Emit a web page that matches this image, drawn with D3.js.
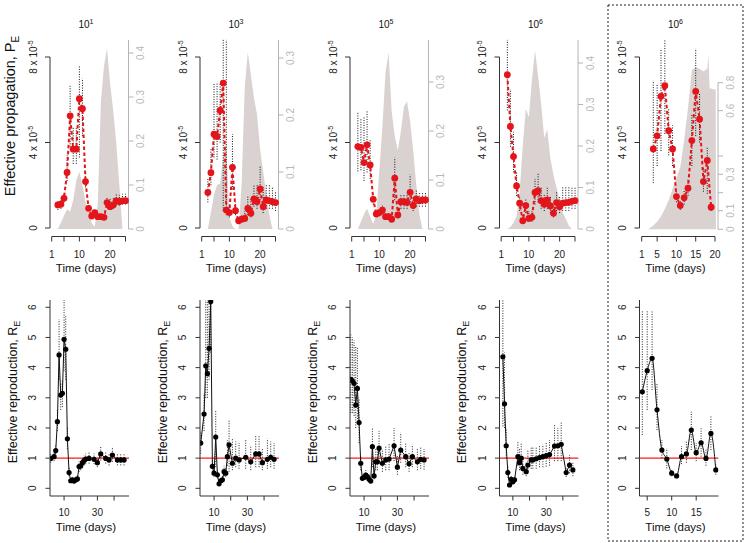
<!DOCTYPE html>
<html><head><meta charset="utf-8">
<script src="https://cdn.jsdelivr.net/npm/d3@7"></script>
<style>
body{margin:0;background:#fff}
svg{display:block}
text{font-family:"Liberation Sans",Arial,Helvetica,sans-serif}
</style>
</head><body>
<svg id="c" width="750" height="543"></svg>
<script>
// ---------- DATA ----------
const panelExponents = ["1", "3", "5", "6", "6"];

// Top row: effective propagation P_E (units of 1e-5), daily points
const pDays = [3,4,5,6,7,8,9,10,11,12,13,14,15,16,17,18,19,20,21,22,23,24,25];
const p1Vals = [1.08,1.11,1.39,2.60,5.25,3.69,3.69,6.05,5.58,2.17,0.92,0.56,0.72,0.53,0.53,0.50,1.19,1.00,1.08,1.27,1.23,1.27,1.28];
const p1Lo   = [0.85,0.90,1.20,2.20,3.80,3.00,3.00,3.30,4.30,1.90,0.80,0.45,0.60,0.45,0.45,0.42,1.00,0.85,0.90,1.05,1.05,1.10,1.10];
const p1Hi   = [1.30,1.35,1.60,3.40,6.65,4.75,4.75,7.60,7.00,2.50,1.10,0.70,0.85,0.65,0.65,0.60,1.45,1.40,1.40,1.60,1.55,1.60,1.60];
const p2Vals = [1.66,2.59,4.39,4.28,5.50,6.78,0.84,0.72,2.84,0.81,0.34,0.41,0.45,0.92,0.69,1.36,1.23,1.83,1.00,1.31,1.27,1.23,1.19];
const p2Lo   = [1.20,2.00,3.30,3.20,4.00,0.80,0.60,0.50,1.80,0.60,0.25,0.30,0.30,0.60,0.50,1.00,0.90,1.30,0.70,0.90,0.90,0.90,0.80];
const p2Hi   = [2.30,3.70,6.80,6.80,6.80,8.80,8.80,1.10,4.40,1.20,0.50,0.60,0.80,1.50,1.40,2.00,2.00,2.90,1.90,2.00,2.00,1.90,1.70];
const p3Vals = [3.81,3.77,3.06,3.89,2.95,1.34,0.66,0.72,0.84,0.53,0.53,0.41,2.33,0.61,1.23,1.23,1.19,1.67,1.05,1.36,1.27,1.31,1.31];
const p3Lo   = [2.65,2.70,2.20,2.60,2.30,1.10,0.50,0.55,0.65,0.40,0.40,0.30,1.30,0.45,0.90,0.90,0.90,1.20,0.80,1.00,1.00,1.00,1.00];
const p3Hi   = [5.40,5.10,5.20,5.50,4.10,1.60,0.85,0.90,1.10,0.70,0.70,0.55,3.30,0.90,1.60,1.60,1.60,2.50,1.50,1.80,1.70,1.70,1.70];
const p4Vals = [7.17,4.75,3.34,1.97,1.16,0.34,1.05,0.45,0.50,1.66,1.75,1.28,1.11,1.31,1.03,0.69,1.19,1.00,1.16,1.19,1.20,1.25,1.28];
const p4Lo   = [5.50,3.80,2.60,1.50,0.80,0.20,0.70,0.30,0.30,1.10,1.20,0.90,0.80,0.90,0.70,0.50,0.80,0.70,0.80,0.80,0.80,0.90,0.90];
const p4Hi   = [8.80,6.50,4.50,2.60,1.50,0.60,1.40,0.80,0.80,2.30,2.60,1.90,1.60,1.90,1.50,1.00,1.70,1.50,1.90,1.90,1.90,1.90,1.90];
const p5Days = [4,5,6,7,8,9,10,11,12,13,14,15,16,17,18,19];
const p5Vals = [3.70,4.31,6.16,6.66,4.55,3.70,1.47,1.05,1.41,1.86,4.09,6.39,5.09,2.17,3.16,0.97];
const p5Lo   = [2.10,2.90,3.60,4.40,3.40,2.90,1.20,0.85,1.10,1.50,2.90,4.30,4.00,1.70,1.60,0.80];
const p5Hi   = [6.90,6.70,8.40,8.80,5.60,4.80,1.80,1.30,1.80,2.30,5.30,8.40,6.30,2.80,3.80,1.20];

// Grey background (right axis) series
const gDays = [3,4,5,6,7,8,9,10,11,12,13,14,15,16,17,18,19,20,21,22,23,24];
const g1Vals = [0,0.015,0.03,0.045,0.04,0.066,0.11,0.13,0.10,0.06,0.043,0.013,0.005,0.06,0.29,0.37,0.41,0.33,0.27,0.195,0.10,0];
const g2Vals = [0,0.03,0.06,0.077,0.08,0.13,0.15,0.02,0.005,0,0,0.08,0.25,0.31,0.27,0.23,0.20,0.14,0.10,0.06,0.025,0];
const g3Vals = [0,0.015,0.03,0.042,0.025,0.01,0.03,0.12,0.21,0.32,0.36,0.24,0.19,0.16,0.20,0.25,0.26,0.22,0.16,0.09,0.03,0];
const g4Vals = [0,0.005,0.015,0.03,0.09,0.20,0.29,0.27,0.36,0.43,0.37,0.30,0.22,0.24,0.17,0.13,0.10,0.07,0.04,0.025,0.008,0];
const g5Days = [2.7,4,5,6,7,8,9,10,11,12,13,14,15,16,17,18,18.3,18.6,20.2,20.25];
const g5Vals = [0,0.02,0.04,0.07,0.11,0.16,0.22,0.28,0.34,0.47,0.62,0.89,0.91,0.90,0.88,0.90,1.00,0.76,0.75,0];

// Right-axis tick values
const rTicks1 = [0,0.1,0.2,0.3,0.4];
const rTicks2 = [0,0.1,0.2,0.3];
const rTicks3 = [0,0.1,0.2,0.3];
const rTicks4 = [0,0.1,0.2,0.3,0.4];
const rTicks5 = [0,0.1,0.2,0.3,0.4,0.6,0.8];
const rLabels5 = [0,0.1,0.3,0.6,0.8];

// Bottom row: effective reproduction R_E
const r1Days = [2,4,5,6,7,8,9,10,11,12,13,14,15,16,17,18,19,20,21,22,23,25,28,30,32,35,37,39,42,44,46];
const r1Vals = [0.99,1.05,1.25,2.21,4.42,3.09,3.15,4.94,4.61,1.64,0.52,0.25,0.28,0.24,0.28,0.31,0.72,0.74,0.85,0.92,0.97,0.99,0.96,0.85,1.14,0.99,0.94,1.10,0.94,0.94,0.94];
const r1Lo   = [0.85,0.90,1.05,1.90,3.60,2.60,2.70,3.90,3.60,1.30,0.40,0.18,0.20,0.17,0.20,0.22,0.55,0.60,0.70,0.76,0.80,0.82,0.80,0.70,0.92,0.82,0.76,0.88,0.76,0.76,0.76];
const r1Hi   = [1.15,1.20,1.45,2.60,5.60,3.50,3.60,6.30,5.70,2.00,0.70,0.35,0.38,0.33,0.38,0.42,0.90,0.92,1.02,1.10,1.15,1.20,1.15,1.02,1.40,1.20,1.15,1.38,1.15,1.15,1.15];
const r2Days = [2,4,5,6,7,8,9,10,11,12,13,14,15,16,17,18,19,21,23,25,29,32,35,37,39,42,44,46];
const r2Vals = [1.50,2.46,4.06,3.80,4.64,6.19,0.73,0.50,1.70,0.45,0.15,0.25,0.28,0.55,0.50,1.05,1.44,0.83,1.00,0.94,1.03,0.88,1.14,1.14,0.85,0.96,1.03,0.96];
const r2Lo   = [1.15,1.90,3.00,3.00,3.60,4.50,0.55,0.38,0.70,0.33,0.10,0.18,0.20,0.40,0.38,0.75,0.55,0.60,0.70,0.65,0.65,0.60,0.70,0.70,0.60,0.65,0.70,0.65];
const r2Hi   = [1.90,3.15,6.30,6.30,6.30,6.30,0.95,0.70,2.60,0.60,0.25,0.35,0.40,0.75,0.70,1.60,2.26,1.65,1.55,1.50,1.60,1.40,1.75,1.75,1.30,1.65,1.55,1.50];
const r3Days = [2,3,4,5,6,7,8,9,10,11,12,13,14,15,16,17,18,19,21,23,25,28,30,32,35,37,39,42,44,46];
const r3Vals = [3.61,3.56,3.48,2.76,3.31,2.18,0.83,0.33,0.36,0.44,0.39,0.30,0.24,1.38,0.41,0.88,0.88,1.33,0.83,0.94,0.97,1.41,0.70,1.27,1.05,0.81,1.05,0.88,0.96,0.94];
const r3Lo   = [2.50,2.50,2.40,2.00,2.30,1.50,0.60,0.25,0.28,0.33,0.30,0.22,0.18,0.70,0.30,0.60,0.60,0.80,0.55,0.60,0.60,0.90,0.45,0.85,0.70,0.55,0.70,0.60,0.65,0.62];
const r3Hi   = [5.10,5.00,4.90,4.70,4.70,3.00,1.10,0.45,0.50,0.60,0.55,0.42,0.35,2.00,0.60,1.30,1.30,1.90,1.30,1.40,1.50,2.00,1.10,1.85,1.50,1.20,1.45,1.30,1.35,1.30];
const r4Days = [4,5,6,7,8,9,10,11,13,14,15,16,18,19,21,22,24,26,28,30,32,35,37,39,42,44,46];
const r4Vals = [4.36,2.80,1.41,0.52,0.11,0.30,0.22,0.28,1.05,0.85,1.00,0.66,0.55,0.77,0.94,0.94,0.98,1.02,1.05,1.08,1.12,1.40,1.41,1.46,0.52,0.77,0.61];
const r4Lo   = [2.05,2.00,1.00,0.35,0.05,0.20,0.12,0.18,0.75,0.60,0.70,0.45,0.40,0.55,0.65,0.65,0.65,0.70,0.70,0.72,0.75,0.90,0.90,0.90,0.38,0.50,0.40];
const r4Hi   = [6.30,4.50,2.00,0.75,0.20,0.45,0.35,0.42,1.55,1.30,1.50,1.05,0.85,1.25,1.35,1.35,1.35,1.40,1.45,1.50,1.60,2.10,2.00,2.20,0.70,1.10,0.85];
const r5Days = [4,5,6,7,8,9,10,11,12,13,14,15,16,17,18,19];
const r5Vals = [3.20,3.90,4.31,2.60,1.27,0.97,0.50,0.41,1.05,1.14,1.93,1.18,1.51,0.99,1.82,0.61];
const r5Lo   = [1.77,2.60,3.26,1.93,1.00,0.66,0.40,0.35,0.80,0.85,1.27,0.90,1.05,0.75,1.27,0.45];
const r5Hi   = [5.90,5.90,5.86,3.48,1.60,1.33,0.60,0.50,1.40,1.55,2.54,1.50,1.99,1.30,2.43,0.80];

const topXTicksA = [1,5,10,15,20,25], topXLabelsA = [1,10,20];
const topXTicksB = [1,5,10,15,20], topXLabelsB = [1,5,10,15,20];
const botXTicksA = [10,20,30,40], botXLabelsA = [10,30];
const botXTicksB = [5,10,15], botXLabelsB = [5,10,15];
const botYTicks = [0,1,2,3,4,5,6];
const topYTicks = [0,4,8];

// ---------- DRAW ----------
const svg = d3.select("#c");
const FONT = '"Liberation Sans",Arial,Helvetica,sans-serif';
const AX = "#333";
const GREY_AX = "#b4b4b4";
const RED = "#e3151b";
const LEFTS = [50, 200, 350, 499.5, 639.5];

const zip = (d, v, lo, hi) => d.map((x, i) => ({day: x, v: v[i], lo: lo[i], hi: hi[i]}));

const topPanels = [
  {pts: zip(pDays, p1Vals, p1Lo, p1Hi), g: gDays.map((d,i)=>({day:d,v:g1Vals[i]})), xDom:[1,25], xT:topXTicksA, xL:topXLabelsA, rDom:[0,0.4], rRange:[229,53], rT:rTicks1, rL:rTicks1, rTop:40},
  {pts: zip(pDays, p2Vals, p2Lo, p2Hi), g: gDays.map((d,i)=>({day:d,v:g2Vals[i]})), xDom:[1,25], xT:topXTicksA, xL:topXLabelsA, rDom:[0,0.3], rRange:[229,58], rT:rTicks2, rL:rTicks2, rTop:40},
  {pts: zip(pDays, p3Vals, p3Lo, p3Hi), g: gDays.map((d,i)=>({day:d,v:g3Vals[i]})), xDom:[1,25], xT:topXTicksA, xL:topXLabelsA, rDom:[0,0.3], rRange:[229,82], rT:rTicks3, rL:rTicks3, rTop:40},
  {pts: zip(pDays, p4Vals, p4Lo, p4Hi), g: gDays.map((d,i)=>({day:d,v:g4Vals[i]})), xDom:[1,25], xT:topXTicksA, xL:topXLabelsA, rDom:[0,0.4], rRange:[229,63], rT:rTicks4, rL:rTicks4, rTop:40},
  {pts: zip(p5Days, p5Vals, p5Lo, p5Hi), g: g5Days.map((d,i)=>({day:d,v:g5Vals[i]})), xDom:[1,20], xT:topXTicksB, xL:topXLabelsB, rDom:[0,0.1,0.2,0.3,0.4,0.6,0.8], rRange:[229.3,210.7,192.7,174.3,156,110.7,82.7], rT:rTicks5, rL:rLabels5, rTop:82.7}
];
const botPanels = [
  {pts: zip(r1Days, r1Vals, r1Lo, r1Hi), xDom:[0,48], xOff:[-2.6,77.4], xT:botXTicksA, xL:botXLabelsA, curve:d3.curveLinear},
  {pts: zip(r2Days, r2Vals, r2Lo, r2Hi), xDom:[0,48], xOff:[-2.6,77.4], xT:botXTicksA, xL:botXLabelsA, curve:d3.curveLinear},
  {pts: zip(r3Days, r3Vals, r3Lo, r3Hi), xDom:[0,48], xOff:[-2.6,77.4], xT:botXTicksA, xL:botXLabelsA, curve:d3.curveLinear},
  {pts: zip(r4Days, r4Vals, r4Lo, r4Hi), xDom:[0,48], xOff:[-3.3,76.7], xT:botXTicksA, xL:botXLabelsA, curve:d3.curveLinear},
  {pts: zip(r5Days, r5Vals, r5Lo, r5Hi), xDom:[5,15], xOff:[7.7,56.7], xT:botXTicksB, xL:botXLabelsB, curve:d3.curveMonotoneX}
];

function rotText(g, x, y, size, color) {
  return g.append("text").attr("transform", `translate(${x},${y}) rotate(-90)`)
    .attr("text-anchor", "middle").attr("font-size", size).attr("fill", color);
}

// ---- top row ----
topPanels.forEach((P, i) => {
  const L = LEFTS[i];
  const g = svg.append("g");
  const x = d3.scaleLinear().domain(P.xDom).range([L + (i === 4 ? 2.2 : 1.7), L + 75.5]);
  const y = d3.scaleLinear().domain([0, 8]).range([228, 57]);
  const yR = d3.scaleLinear().domain(P.rDom).range(P.rRange);
  const R = L + 78.5;

  // grey area
  g.append("path").datum(P.g)
    .attr("d", d3.area().x(d => x(d.day)).y0(yR(0)).y1(d => yR(d.v)))
    .attr("fill", "#dad2d0");

  // right axis
  g.append("line").attr("x1", R).attr("x2", R).attr("y1", P.rTop).attr("y2", yR(0))
    .attr("stroke", GREY_AX).attr("stroke-width", 1);
  P.rT.forEach(t => {
    g.append("line").attr("x1", R).attr("x2", R + 5).attr("y1", yR(t)).attr("y2", yR(t))
      .attr("stroke", GREY_AX);
  });
  P.rL.forEach(t => {
    rotText(g, R + 15.5, yR(t), 10, "#b8b8b8").text(t === 0 ? "0" : String(t));
  });

  // left axis
  g.append("line").attr("x1", L).attr("x2", L).attr("y1", y(8)).attr("y2", y(0))
    .attr("stroke", AX);
  topYTicks.forEach(t => {
    g.append("line").attr("x1", L - 5).attr("x2", L).attr("y1", y(t)).attr("y2", y(t)).attr("stroke", AX);
    const tx = rotText(g, L - 13.5, y(t), 10, "#222");
    if (t === 0) tx.text("0");
    else {
      tx.append("tspan").text(`${t} x 10`);
      tx.append("tspan").attr("dy", -4).attr("font-size", 7).text("-5");
    }
  });

  // x axis
  const xa = 236.5;
  g.append("line").attr("x1", x(P.xDom[0])).attr("x2", x(P.xDom[1])).attr("y1", xa).attr("y2", xa).attr("stroke", AX);
  P.xT.forEach(t => {
    g.append("line").attr("x1", x(t)).attr("x2", x(t)).attr("y1", xa).attr("y2", xa + 5).attr("stroke", AX);
  });
  P.xL.forEach(t => {
    g.append("text").attr("x", x(t)).attr("y", 257.5).attr("text-anchor", "middle")
      .attr("font-size", 10).attr("fill", "#222").text(t);
  });
  g.append("text").attr("x", L + 36).attr("y", 271.5).attr("text-anchor", "middle")
    .attr("font-size", 11.5).attr("fill", "#111").text("Time (days)");

  // title
  const tt = g.append("text").attr("x", L + 36).attr("y", 28).attr("text-anchor", "middle")
    .attr("font-size", 10).attr("fill", "#111");
  tt.append("tspan").text("10");
  tt.append("tspan").attr("dy", -4).attr("font-size", 7).text(panelExponents[i]);

  // error bars
  g.selectAll(null).data(P.pts).join("line")
    .attr("x1", d => x(d.day)).attr("x2", d => x(d.day))
    .attr("y1", d => y(d.lo)).attr("y2", d => y(d.hi))
    .attr("stroke", "#111").attr("stroke-width", 1).attr("stroke-dasharray", "1,1.5");

  // red dashed line
  g.append("path").datum(P.pts)
    .attr("d", d3.line().x(d => x(d.day)).y(d => y(d.v)))
    .attr("fill", "none").attr("stroke", RED).attr("stroke-width", 2).attr("stroke-dasharray", "3.5,2.5");

  g.selectAll(null).data(P.pts).join("circle")
    .attr("cx", d => x(d.day)).attr("cy", d => y(d.v)).attr("r", 3.4).attr("fill", RED);
});

// top y title
{
  const t = rotText(svg, 15.2, 116, 14.5, "#111");
  t.append("tspan").text("Effective propagation, P");
  t.append("tspan").attr("dy", 3.5).attr("font-size", 10).text("E");
}

// ---- bottom row ----
const defs = svg.append("defs");
botPanels.forEach((P, i) => {
  const L = LEFTS[i];
  const g = svg.append("g");
  const x = d3.scaleLinear().domain(P.xDom).range([L + P.xOff[0], L + P.xOff[1]]);
  const y = d3.scaleLinear().domain([0, 6]).range([488.3, 307.3]);
  const top = 300, bot = 496, right = L + 79;

  defs.append("clipPath").attr("id", "clipB" + i).append("rect")
    .attr("x", L).attr("y", top).attr("width", right - L).attr("height", bot - top);
  const pg = g.append("g").attr("clip-path", `url(#clipB${i})`);

  // red reference line at R=1
  pg.append("line").attr("x1", L).attr("x2", right).attr("y1", y(1)).attr("y2", y(1))
    .attr("stroke", "#ff1a1a").attr("stroke-width", 1.3);

  pg.selectAll(null).data(P.pts).join("line")
    .attr("x1", d => x(d.day)).attr("x2", d => x(d.day))
    .attr("y1", d => y(d.lo)).attr("y2", d => y(d.hi))
    .attr("stroke", "#222").attr("stroke-width", 1).attr("stroke-dasharray", "1,1.5");

  pg.append("path").datum(P.pts)
    .attr("d", d3.line().curve(P.curve).x(d => x(d.day)).y(d => y(d.v)))
    .attr("fill", "none").attr("stroke", "#111").attr("stroke-width", 1);

  pg.selectAll(null).data(P.pts).join("circle")
    .attr("cx", d => x(d.day)).attr("cy", d => y(d.v)).attr("r", 2.6).attr("fill", "#000");

  // L-shaped box
  g.append("path").attr("d", `M${L},${top}V${bot}H${right}`).attr("fill", "none").attr("stroke", AX);

  botYTicks.forEach(t => {
    g.append("line").attr("x1", L - 4.5).attr("x2", L).attr("y1", y(t)).attr("y2", y(t)).attr("stroke", AX);
    rotText(g, L - 14, y(t), 10, "#222").text(t);
  });
  P.xT.forEach(t => {
    g.append("line").attr("x1", x(t)).attr("x2", x(t)).attr("y1", bot).attr("y2", bot + 4.5).attr("stroke", AX);
  });
  P.xL.forEach(t => {
    g.append("text").attr("x", x(t)).attr("y", 515.5).attr("text-anchor", "middle")
      .attr("font-size", 10).attr("fill", "#222").text(t);
  });
  g.append("text").attr("x", L + 36).attr("y", 531).attr("text-anchor", "middle")
    .attr("font-size", 11.5).attr("fill", "#111").text("Time (days)");

  if (i < 4) {
    const t = rotText(g, L - 33.5, 392, 12.5, "#111");
    t.append("tspan").text("Effective reproduction, R");
    t.append("tspan").attr("dy", 3).attr("font-size", 9).text("E");
  }
});

// dashed frame around last column
svg.append("rect").attr("x", 608).attr("y", 5).attr("width", 135).attr("height", 536)
  .attr("fill", "none").attr("stroke", "#222").attr("stroke-width", 1).attr("stroke-dasharray", "2,2");
</script>
</body></html>
